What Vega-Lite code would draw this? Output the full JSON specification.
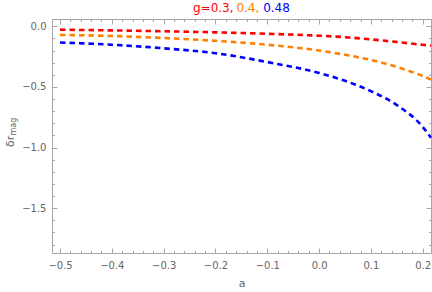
{
  "$schema": "https://vega.github.io/schema/vega-lite/v6.json",
  "width": 379,
  "height": 234,
  "autosize": "none",
  "padding": {"left": 52, "top": 19, "right": 1, "bottom": 39},
  "config": {
    "view": {"stroke": "#a6a6a6", "strokeWidth": 1},
    "font": "DejaVu Sans",
    "axis": {"labelFont": "DejaVu Sans", "titleFont": "DejaVu Sans", "labelColor": "#666666", "titleColor": "#666666", "tickColor": "#a6a6a6", "grid": false, "domain": false}
  },
  "datasets": {
    "curves": [
      {"a": -0.5, "v": -0.028, "g": "0.3"},
      {"a": -0.4, "v": -0.034, "g": "0.3"},
      {"a": -0.3, "v": -0.041, "g": "0.3"},
      {"a": -0.2, "v": -0.05, "g": "0.3"},
      {"a": -0.1, "v": -0.062, "g": "0.3"},
      {"a": 0.0, "v": -0.078, "g": "0.3"},
      {"a": 0.05, "v": -0.09, "g": "0.3"},
      {"a": 0.1, "v": -0.108, "g": "0.3"},
      {"a": 0.15, "v": -0.13, "g": "0.3"},
      {"a": 0.2, "v": -0.153, "g": "0.3"},
      {"a": 0.216, "v": -0.16, "g": "0.3"},
      {"a": -0.5, "v": -0.071, "g": "0.4"},
      {"a": -0.4, "v": -0.08, "g": "0.4"},
      {"a": -0.3, "v": -0.097, "g": "0.4"},
      {"a": -0.2, "v": -0.12, "g": "0.4"},
      {"a": -0.1, "v": -0.152, "g": "0.4"},
      {"a": 0.0, "v": -0.2, "g": "0.4"},
      {"a": 0.05, "v": -0.235, "g": "0.4"},
      {"a": 0.1, "v": -0.278, "g": "0.4"},
      {"a": 0.15, "v": -0.335, "g": "0.4"},
      {"a": 0.2, "v": -0.41, "g": "0.4"},
      {"a": 0.216, "v": -0.44, "g": "0.4"},
      {"a": -0.5, "v": -0.134, "g": "0.48"},
      {"a": -0.4, "v": -0.152, "g": "0.48"},
      {"a": -0.3, "v": -0.182, "g": "0.48"},
      {"a": -0.2, "v": -0.222, "g": "0.48"},
      {"a": -0.1, "v": -0.295, "g": "0.48"},
      {"a": 0.0, "v": -0.385, "g": "0.48"},
      {"a": 0.05, "v": -0.45, "g": "0.48"},
      {"a": 0.1, "v": -0.535, "g": "0.48"},
      {"a": 0.15, "v": -0.65, "g": "0.48"},
      {"a": 0.2, "v": -0.83, "g": "0.48"},
      {"a": 0.216, "v": -0.92, "g": "0.48"}
    ],
    "one": [{}]
  },
  "resolve": {"axis": {"x": "independent", "y": "independent"}},
  "layer": [
    {
      "data": {"name": "curves"},
      "mark": {"type": "line", "strokeDash": [5.5, 4], "strokeWidth": 2.6, "interpolate": "monotone", "strokeCap": "butt"},
      "encoding": {
        "x": {
          "field": "a", "type": "quantitative",
          "scale": {"domain": [-0.5155, 0.216], "nice": false, "zero": false},
          "axis": {
            "orient": "bottom", "title": "a", "titleFontSize": 11, "titleFontWeight": "normal", "titlePadding": 7,
            "values": [-0.5, -0.48, -0.46, -0.44, -0.42, -0.4, -0.38, -0.36, -0.34, -0.32, -0.3, -0.28, -0.26, -0.24, -0.22, -0.2, -0.18, -0.16, -0.14, -0.12, -0.1, -0.08, -0.06, -0.04, -0.02, 0, 0.02, 0.04, 0.06, 0.08, 0.1, 0.12, 0.14, 0.16, 0.18, 0.2],
            "labelExpr": "abs(datum.value*10 - round(datum.value*10)) < 0.001 ? replace(format(datum.value, '.1f'), '-', '\u2212') : ''",
            "tickSize": {"condition": {"test": "abs(datum.value*10 - round(datum.value*10)) < 0.001", "value": -5}, "value": -2.5},
            "labelFontSize": 10, "labelPadding": 12, "labelFlush": false
          }
        },
        "y": {
          "field": "v", "type": "quantitative",
          "scale": {"domain": [-1.87, 0.06], "nice": false, "zero": false},
          "axis": {
            "orient": "left", "title": null,
            "values": [-1.8, -1.7, -1.6, -1.5, -1.4, -1.3, -1.2, -1.1, -1.0, -0.9, -0.8, -0.7, -0.6, -0.5, -0.4, -0.3, -0.2, -0.1, 0],
            "labelExpr": "abs(datum.value*2 - round(datum.value*2)) < 0.001 ? replace(format(datum.value, '.1f'), '-', '\u2212') : ''",
            "tickSize": {"condition": {"test": "abs(datum.value*2 - round(datum.value*2)) < 0.001", "value": -5}, "value": -2.5},
            "labelFontSize": 10, "labelPadding": 11, "labelFlush": false
          }
        },
        "color": {
          "field": "g", "type": "nominal",
          "scale": {"domain": ["0.3", "0.4", "0.48"], "range": ["#ff0000", "#ff8000", "#0000ff"]},
          "legend": null
        }
      }
    },
    {
      "data": {"name": "one"},
      "mark": {"type": "text", "text": "g=0.3,", "fontSize": 12, "align": "left", "baseline": "alphabetic", "color": "#ff0000"},
      "encoding": {
        "x": {"datum": -0.2434, "type": "quantitative", "axis": {"orient": "top", "labels": false, "title": null,
            "values": [-0.5, -0.48, -0.46, -0.44, -0.42, -0.4, -0.38, -0.36, -0.34, -0.32, -0.3, -0.28, -0.26, -0.24, -0.22, -0.2, -0.18, -0.16, -0.14, -0.12, -0.1, -0.08, -0.06, -0.04, -0.02, 0, 0.02, 0.04, 0.06, 0.08, 0.1, 0.12, 0.14, 0.16, 0.18, 0.2],
            "tickSize": {"condition": {"test": "abs(datum.value*10 - round(datum.value*10)) < 0.001", "value": -5}, "value": -2.5}}},
        "y": {"datum": 0.115, "type": "quantitative", "axis": {"orient": "right", "labels": false, "title": null,
            "values": [-1.8, -1.7, -1.6, -1.5, -1.4, -1.3, -1.2, -1.1, -1.0, -0.9, -0.8, -0.7, -0.6, -0.5, -0.4, -0.3, -0.2, -0.1, 0],
            "tickSize": {"condition": {"test": "abs(datum.value*2 - round(datum.value*2)) < 0.001", "value": -5}, "value": -2.5}}}
      }
    },
    {
      "data": {"name": "one"},
      "mark": {"type": "text", "text": "0.4,", "fontSize": 12, "align": "left", "baseline": "alphabetic", "color": "#ff8000"},
      "encoding": {
        "x": {"datum": -0.1596, "type": "quantitative", "axis": null},
        "y": {"datum": 0.115, "type": "quantitative", "axis": null}
      }
    },
    {
      "data": {"name": "one"},
      "mark": {"type": "text", "text": "0.48", "fontSize": 12, "align": "left", "baseline": "alphabetic", "color": "#0000ff"},
      "encoding": {
        "x": {"datum": -0.108, "type": "quantitative", "axis": null},
        "y": {"datum": 0.115, "type": "quantitative", "axis": null}
      }
    },
    {
      "data": {"name": "one"},
      "mark": {"type": "text", "text": "δr", "fontSize": 11, "align": "left", "baseline": "alphabetic", "angle": 270, "color": "#666666"},
      "encoding": {
        "x": {"datum": -0.5889, "type": "quantitative", "axis": null},
        "y": {"datum": -0.996, "type": "quantitative", "axis": null}
      }
    },
    {
      "data": {"name": "one"},
      "mark": {"type": "text", "text": "mag", "fontSize": 8, "align": "left", "baseline": "alphabetic", "angle": 270, "color": "#666666"},
      "encoding": {
        "x": {"datum": -0.5850, "type": "quantitative", "axis": null},
        "y": {"datum": -0.901, "type": "quantitative", "axis": null}
      }
    }
  ]
}
